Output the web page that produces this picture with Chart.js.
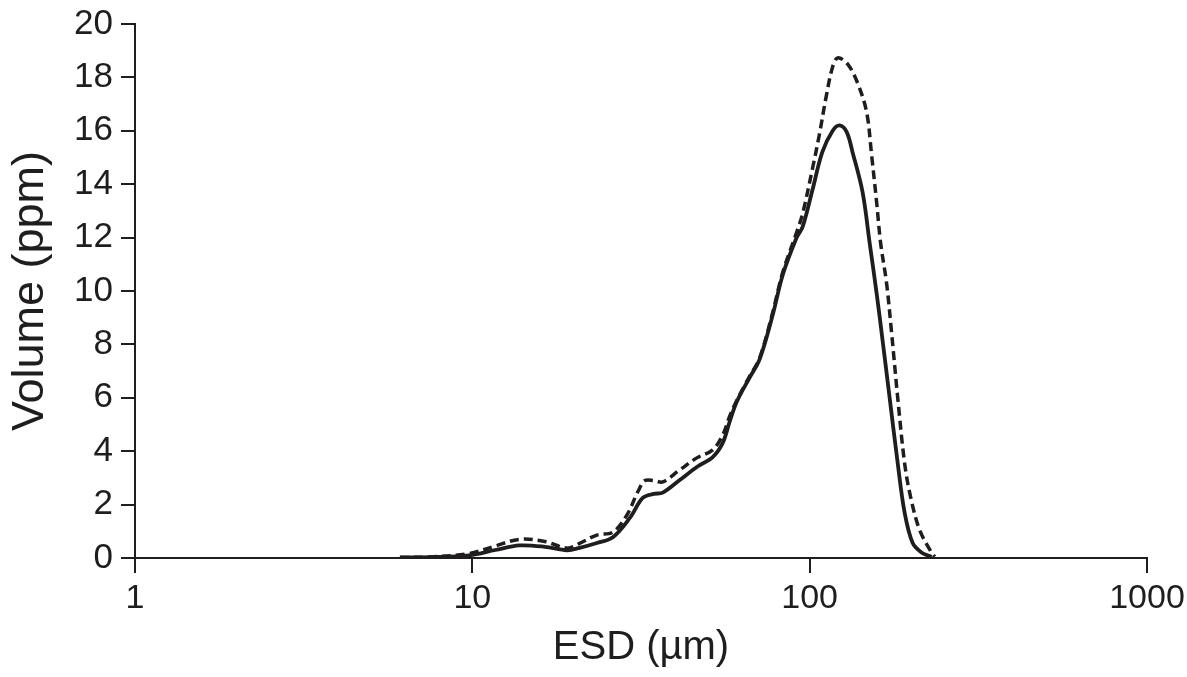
<!DOCTYPE html>
<html>
<head>
<meta charset="utf-8">
<script src="https://cdn.jsdelivr.net/npm/chart.js@4/dist/chart.umd.min.js"></script>
<style>
  html, body { margin: 0; padding: 0; background: #fff; }
  #wrap { width: 1187px; height: 677px; }
</style>
</head>
<body>
<div id="wrap"><canvas id="grafico"></canvas></div>
<script>
// solid curve
const solidEsd = [6.1, 7.5, 9.8, 11.7, 13.8, 16.4, 19.1, 20.8, 23.4, 26.1, 29.3, 32.0, 34.5, 36.7, 41.2, 46.3, 51.6, 55.2, 57.9, 60.8, 66, 71.1, 77.7, 83.2, 91.5, 95.3, 102, 109, 117, 122.7, 128.8, 134, 143.5, 150.6, 158, 164.5, 172.6, 182.4, 191.2, 202, 215, 230];
const solidVol = [0.02, 0.03, 0.1, 0.3, 0.47, 0.42, 0.29, 0.38, 0.56, 0.78, 1.5, 2.25, 2.4, 2.45, 2.92, 3.41, 3.78, 4.3, 5.1, 5.85, 6.7, 7.45, 9.1, 10.6, 12.0, 12.4, 13.8, 15.2, 16.0, 16.2, 15.95, 15.2, 13.7, 11.8, 9.9, 8.15, 6.0, 3.55, 1.7, 0.56, 0.2, 0.04];

// dashed curve
const dashedEsd = [6.1, 7.5, 9.8, 11.7, 13.8, 16.4, 19.1, 20.8, 23.4, 26.1, 28.7, 31.0, 32.5, 34.5, 36.7, 41.2, 46.3, 51.6, 55.2, 57.9, 60.8, 66, 71.1, 77.7, 83.2, 91.5, 95.3, 102, 107, 112, 117, 121, 129.6, 138.6, 147.5, 152.6, 158, 162.3, 169, 174.9, 182.4, 191.2, 199.2, 211.8, 230, 235];
const dashedVol = [0.02, 0.04, 0.17, 0.45, 0.7, 0.62, 0.37, 0.55, 0.86, 0.97, 1.6, 2.5, 2.9, 2.9, 2.85, 3.3, 3.75, 4.05, 4.6, 5.3, 5.9, 6.75, 7.5, 9.2, 10.7, 12.2, 12.9, 14.6, 15.9, 17.3, 18.4, 18.73, 18.5, 17.8, 16.7, 15.1, 13.3, 11.8, 10.3, 8.45, 6.0, 3.55, 2.28, 1.05, 0.19, 0.05];

const xTicks = [1, 10, 100, 1000];

const ink = "#1f1d1e";
const fuente = "'Liberation Sans', Arial, Helvetica, sans-serif";

const puntos = (xs, ys) => xs.map((x, i) => ({ x, y: ys[i] }));

new Chart(document.getElementById("grafico"), {
  type: "line",
  data: {
    datasets: [
      {
        data: puntos(solidEsd, solidVol),
        borderColor: ink,
        borderWidth: 3.8,
        pointRadius: 0,
        tension: 0.35
      },
      {
        data: puntos(dashedEsd, dashedVol),
        borderColor: ink,
        borderWidth: 3.5,
        borderDash: [9, 5],
        pointRadius: 0,
        tension: 0.35
      }
    ]
  },
  options: {
    responsive: true,
    maintainAspectRatio: false,
    animation: false,
    layout: { padding: { top: 24, right: 40, left: 0, bottom: 0 } },
    plugins: { legend: { display: false }, tooltip: { enabled: false } },
    scales: {
      x: {
        type: "logarithmic",
        min: 1,
        max: 1000,
        afterBuildTicks: s => { s.ticks = xTicks.map(v => ({ value: v })); },
        afterFit: s => { s.height = 119; s.paddingLeft = 0; s.paddingRight = 0; },
        ticks: {
          color: ink,
          font: { family: fuente, size: 34 },
          padding: 5,
          maxRotation: 0,
          callback: v => String(v)
        },
        grid: { drawOnChartArea: false, drawTicks: true, tickLength: 15, color: ink, lineWidth: 2 },
        border: { display: true, color: ink, width: 2 },
        title: { display: true, text: "ESD (µm)", color: ink, font: { family: fuente, size: 40 }, padding: { top: 0, bottom: 5 } }
      },
      y: {
        min: 0,
        max: 20,
        afterFit: s => { s.width = 135; s.paddingTop = 0; s.paddingBottom = 0; },
        ticks: {
          stepSize: 2,
          color: ink,
          font: { family: fuente, size: 35 },
          padding: 8
        },
        grid: { drawOnChartArea: false, drawTicks: true, tickLength: 14, color: ink, lineWidth: 2 },
        border: { display: true, color: ink, width: 2 },
        title: { display: true, text: "Volume (ppm)", color: ink, font: { family: fuente, size: 45 }, padding: { top: 4, bottom: 0 } }
      }
    }
  }
});
</script>
</body>
</html>
